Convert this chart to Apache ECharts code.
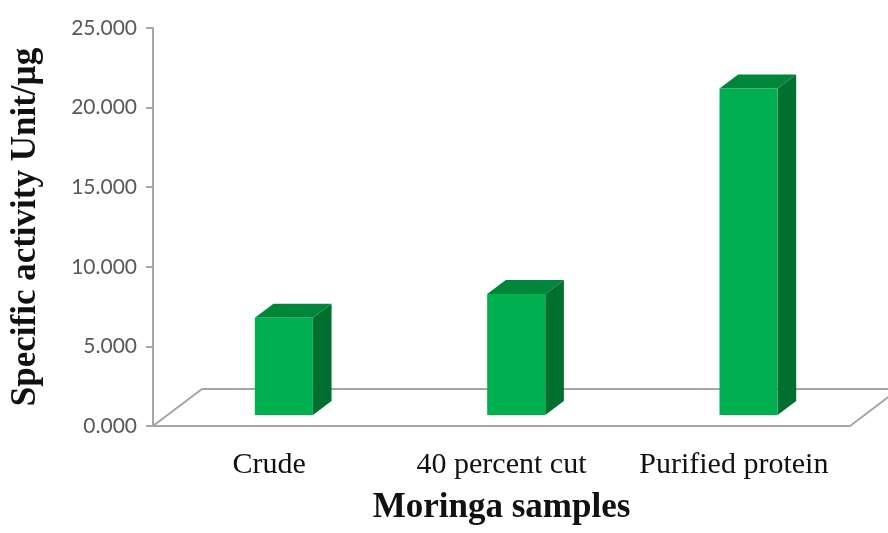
<!DOCTYPE html>
<html>
<head>
<meta charset="utf-8">
<script src="https://cdn.jsdelivr.net/npm/echarts@6/dist/echarts.min.js"></script>
<style>
html,body{margin:0;padding:0;background:#fff;}
#chart{width:888px;height:533px;}
</style>
</head>
<body>
<div id="chart"></div>
<script>
const categories = ['Crude', '40 percent cut', 'Purified protein'];
const values = [6.1, 7.6, 20.5];
const yMin = 0, yMax = 25, yStep = 5;
const xTitle = 'Moringa samples';
const yTitle = 'Specific activity Unit/µg';

const chart = echarts.init(document.getElementById('chart'), null, {renderer: 'canvas'});

// depth ratios relative to band width
const FLOOR_DX = 0.211, FLOOR_DY = 0.159, BAR_POS = 0.3, BAR_DEPTH = 0.38, BAR_W = 0.25;

function floorItem(params, api) {
  const bw = api.size([1, 0])[0];
  const p0 = api.coord([0, 0]);
  const p1 = api.coord([categories.length - 1, 0]);
  const xl = p0[0] - bw / 2, xr = p1[0] + bw / 2, y = p0[1];
  const dx = FLOOR_DX * bw, dy = FLOOR_DY * bw;
  return {
    type: 'polygon',
    shape: {points: [[xl, y], [xr, y], [xr + dx, y - dy], [xl + dx, y - dy]]},
    style: {fill: '#ffffff', stroke: '#a6a6a6', lineWidth: 2}
  };
}

function barItem(params, api) {
  const idx = api.value(0), val = api.value(1);
  const bw = api.size([1, 0])[0];
  const top = api.coord([idx, val]);
  const base = api.coord([idx, 0]);
  const fdx = FLOOR_DX * bw, fdy = FLOOR_DY * bw;
  const cx = base[0] + BAR_POS * fdx;
  const yb = base[1] - BAR_POS * fdy;
  const yt = top[1] - BAR_POS * fdy;
  const w = BAR_W * bw;
  const x0 = cx - w / 2, x1 = cx + w / 2;
  const ddx = BAR_DEPTH * fdx, ddy = BAR_DEPTH * fdy;
  return {
    type: 'group',
    children: [
      {type: 'polygon', shape: {points: [[x1, yb], [x1 + ddx, yb - ddy], [x1 + ddx, yt - ddy], [x1, yt]]},
        style: {fill: '#006f2f'}},
      {type: 'polygon', shape: {points: [[x0, yt], [x1, yt], [x1 + ddx, yt - ddy], [x0 + ddx, yt - ddy]]},
        style: {fill: '#00863a'}},
      {type: 'rect', shape: {x: x0, y: yt, width: w, height: yb - yt},
        style: {fill: '#00b050'}}
    ]
  };
}

const option = {
  backgroundColor: '#ffffff',
  animation: false,
  grid: {left: 153, right: 38, top: 28, bottom: 107},
  xAxis: {
    type: 'category',
    data: categories,
    boundaryGap: true,
    axisLine: {show: false},
    axisTick: {show: false},
    axisLabel: {interval: 0, hideOverlap: false, fontFamily: 'Liberation Serif', fontSize: 30, color: '#111', margin: 24},
    name: xTitle,
    nameLocation: 'middle',
    nameGap: 64,
    nameTextStyle: {fontFamily: 'Liberation Serif', fontWeight: 'bold', fontSize: 35, color: '#111'}
  },
  yAxis: {
    type: 'value',
    min: yMin, max: yMax, interval: yStep,
    axisLine: {show: true, lineStyle: {color: '#a6a6a6', width: 2}},
    axisTick: {show: true, inside: false, length: 7, lineStyle: {color: '#a6a6a6', width: 2}},
    splitLine: {show: false},
    axisLabel: {fontFamily: 'Lato', fontSize: 21, color: '#595959', margin: 16,
      formatter: v => v.toFixed(3)},
    name: yTitle,
    nameLocation: 'middle',
    nameGap: 110,
    nameTextStyle: {fontFamily: 'Liberation Serif', fontWeight: 'bold', fontSize: 35, color: '#111'}
  },
  series: [
    {type: 'custom', renderItem: floorItem, data: [[0, 0]], clip: false, z: 1, silent: true},
    {type: 'custom', renderItem: barItem, data: values.map((v, i) => [i, v]), clip: false, z: 2}
  ]
};
chart.setOption(option);
</script>
</body>
</html>
